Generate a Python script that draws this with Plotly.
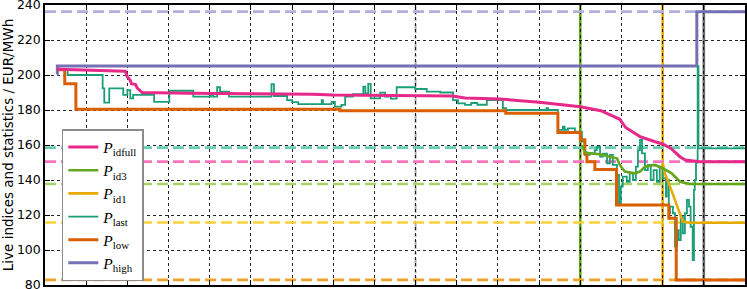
import plotly.graph_objects as go

# ---------------- data ----------------
# time axis in hours (grid every hour, no labels shown)
x_range = [0, 17]

high_x = [0.29, 0.30, 15.83, 17.0]
high_y = [200.5, 205.1, 236.2, 236.2]

low_x = [0.30, 0.48, 0.75, 7.16, 11.19, 12.456, 13.0, 13.11, 13.16, 13.354, 13.88, 15.15, 15.33, 17.0]
low_y = [203.0, 195.0, 180.4, 179.6, 178.1, 167.2, 163.0, 155.0, 150.5, 146.0, 125.7, 118.1, 82.9, 82.9]

idfull_x = [0.30, 1.00, 1.95, 2.00, 2.07, 2.10, 2.20, 2.24, 2.36, 3.50, 4.98, 6.50, 7.00, 8.50, 9.50,
            9.90, 10.20, 11.05, 12.00, 13.00, 13.50, 13.73, 13.96, 14.10, 14.45, 14.80, 15.00, 15.20,
            15.42, 15.55, 15.90, 17.00]
idfull_y = [203.3, 202.8, 202.2, 199.0, 197.0, 195.0, 194.5, 192.5, 190.0, 189.6, 189.5, 189.0, 188.6,
            188.4, 188.2, 188.0, 186.9, 186.3, 184.4, 181.9, 179.6, 177.1, 174.7, 170.0, 164.8, 162.0,
            160.6, 158.0, 153.3, 151.4, 150.5, 150.5]

id3_x = [13.04, 13.11, 13.23, 13.48, 13.72, 13.89, 13.96, 14.08, 14.33, 14.45, 14.57, 14.81, 15.00,
         15.22, 15.42, 15.66, 17.00]
id3_y = [160.0, 156.0, 155.2, 154.7, 153.3, 152.4, 148.6, 144.8, 143.8, 144.8, 147.6, 148.6, 146.7,
         143.8, 139.0, 137.7, 137.7]

id1_x = [15.00, 15.05, 15.18, 15.30, 15.42, 15.49, 15.66, 17.00]
id1_y = [150.0, 144.0, 136.2, 128.6, 121.0, 116.2, 115.6, 115.6]

last_x = [0.30, 0.55, 1.40, 1.44, 1.56, 1.90, 2.00, 2.07, 2.14, 2.65, 3.02, 3.60, 4.03, 4.08, 4.18,
          4.25, 4.47, 5.50, 5.56, 5.88, 6.00, 6.15, 6.72, 6.75, 6.96, 7.04, 7.20, 7.29, 7.48, 7.73,
          7.78, 7.85, 7.91, 8.14, 8.26, 8.40, 8.54, 8.99, 9.27, 9.60, 9.91, 10.03, 10.20, 10.35,
          10.50, 10.73, 11.00, 11.12, 11.20, 12.18, 12.22, 12.456, 12.577, 12.62, 12.70, 12.87,
          13.04, 13.11, 13.23, 13.35, 13.40, 13.48, 13.55, 13.65, 13.72, 13.79, 13.89, 13.94,
          13.985, 14.03, 14.13, 14.20, 14.28, 14.35, 14.40, 14.45, 14.50, 14.57, 14.64, 14.71,
          14.78, 14.86, 14.93, 15.00, 15.08, 15.10, 15.15, 15.18, 15.25, 15.30, 15.35, 15.39,
          15.44, 15.49, 15.54, 15.59, 15.64, 15.68, 15.73, 15.76, 15.78, 15.81, 15.85, 15.87, 17.00]
last_y = [203.0, 200.0, 192.4, 184.2, 192.4, 188.6, 191.4, 186.7, 188.6, 184.7, 191.0, 187.6, 188.8,
          187.6, 193.0, 190.5, 187.6, 194.8, 188.0, 185.7, 184.5, 183.4, 185.7, 183.4, 184.7, 181.9,
          182.9, 187.6, 189.1, 193.3, 189.5, 194.9, 186.7, 189.9, 187.6, 186.5, 193.0, 192.0, 190.5,
          190.0, 185.7, 183.8, 182.9, 184.0, 183.0, 185.7, 185.7, 181.0, 180.0, 181.0, 180.0, 168.6,
          170.5, 168.6, 169.5, 167.6, 162.0, 154.3, 155.2, 157.1, 159.0, 153.3, 155.0, 149.5, 154.3,
          148.6, 142.9, 126.7, 136.2, 141.9, 139.0, 143.8, 140.0, 147.6, 157.1, 162.9, 155.2, 145.7,
          148.6, 140.0, 145.7, 139.0, 147.6, 141.0, 130.5, 140.0, 121.0, 124.8, 121.0, 101.9, 111.4,
          105.7, 119.0, 109.5, 121.0, 128.6, 124.8, 113.3, 94.3, 134.3, 140.0, 150.0, 205.0, 158.1,
          158.1]

# statistics (dashed horizontal reference lines)
stat_names = ["high", "last", "idfull", "id3", "id1", "low"]
stat_values = [236.2, 158.5, 150.5, 137.7, 115.7, 82.9]
stat_colors = ["#b3afdc", "#6acdb3", "#f475bd", "#a8d362", "#f7d53a", "#eca42a"]

# event markers (hours)
event_times = [9, 13, 15, 16]
event_colors = ["#b0b0b0", "#66a61e", "#e6ab02", "#6a6a6a"]
event_dash = ["dashdot", "solid", "solid", "solid"]
event_width = [2, 2.6, 2.6, 2.6]

y_ticks = [80, 100, 120, 140, 160, 180, 200, 220, 240]

# ---------------- figure ----------------
fig = go.Figure()

for v, c in zip(stat_values, stat_colors):
    fig.add_trace(go.Scatter(x=x_range, y=[v, v], mode="lines", showlegend=False, hoverinfo="skip",
                             line=dict(color=c, width=2.6, dash="11px,5px")))

series = [
    ("<i>P</i><sub>high</sub>", high_x, high_y, "#7570b3", 3.0, "hv", 6),
    ("<i>P</i><sub>last</sub>", last_x, last_y, "#1b9e77", 1.8, "hv", 4),
    ("<i>P</i><sub>low</sub>", low_x, low_y, "#d95f02", 3.0, "hv", 5),
    ("<i>P</i><sub>id1</sub>", id1_x, id1_y, "#e6ab02", 2.6, "linear", 3),
    ("<i>P</i><sub>id3</sub>", id3_x, id3_y, "#66a61e", 2.6, "linear", 2),
    ("<i>P</i><sub>idfull</sub>", idfull_x, idfull_y, "#e7298a", 3.0, "linear", 1),
]
for name, xs, ys, col, w, shape, rank in series:
    fig.add_trace(go.Scatter(x=xs, y=ys, mode="lines", name=name, legendrank=rank,
                             line=dict(color=col, width=w, shape=shape)))

for t, c, d, w in zip(event_times, event_colors, event_dash, event_width):
    fig.add_shape(type="line", xref="x", yref="paper", x0=t, x1=t, y0=0, y1=1,
                  line=dict(color=c, width=w, dash=d), layer="below")

axis_common = dict(showline=True, linecolor="black", linewidth=1.5, mirror="ticks",
                   ticks="inside", ticklen=5, tickcolor="black", tickwidth=1,
                   showgrid=True, gridcolor="rgba(0,0,0,0.85)", gridwidth=1, griddash="dot",
                   zeroline=False)

fig.update_xaxes(range=x_range, dtick=1, tick0=0, showticklabels=False, **axis_common)
fig.update_yaxes(range=[80, 240], tickvals=y_ticks, ticktext=[str(v) for v in y_ticks],
                 tickfont=dict(family="DejaVu Sans", size=12.5, color="black"),
                 ticklabeloverflow="allow",
                 title=dict(text="Live indices and statistics / EUR/MWh",
                            font=dict(family="DejaVu Sans", size=13.5, color="black"), standoff=3),
                 **axis_common)

fig.update_layout(
    width=747, height=289,
    margin=dict(l=45, r=2, t=5, b=4, autoexpand=False),
    paper_bgcolor="white", plot_bgcolor="white",
    legend=dict(x=0.024, y=0.557, xanchor="left", yanchor="top",
                bgcolor="white", bordercolor="#8c8c8c", borderwidth=1.5,
                font=dict(family="Liberation Serif", size=15.5, color="black"),
                itemwidth=30, tracegroupgap=0, traceorder="normal"),
)

fig.write_html("out.html", config={"displayModeBar": False},
               post_script="document.body.style.margin='0';document.body.style.overflow='hidden';")
